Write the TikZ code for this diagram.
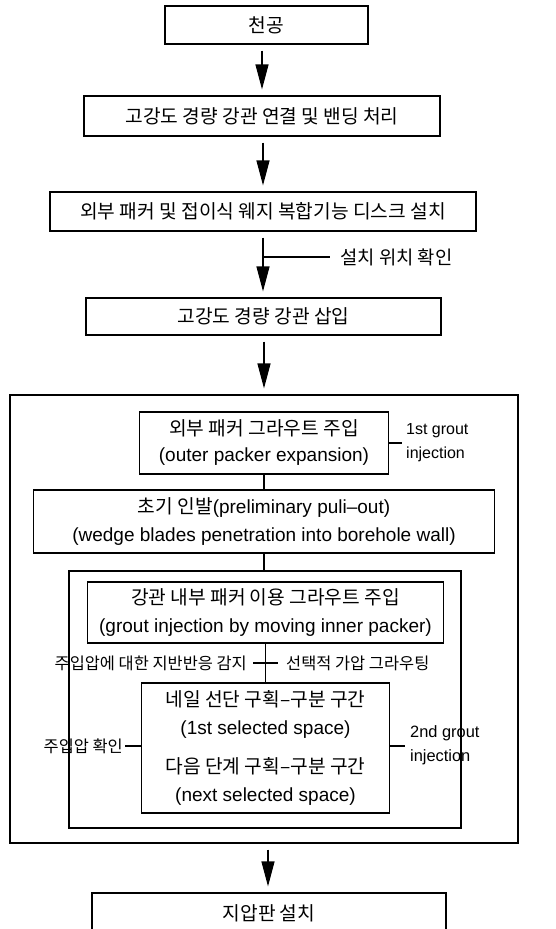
\documentclass[tikz,border=0pt]{standalone}
\usepackage{fontspec}
\setmainfont{Liberation Sans}
\newfontfamily\krfont{Noto Sans CJK KR}
\usetikzlibrary{arrows.meta}
\newcommand\K{\krfont\fontsize{19.2}{28}\selectfont}
\newcommand\Ks{\krfont\fontsize{16.4}{24}\selectfont}
\newcommand\E{\fontsize{19}{28}\selectfont}
\begin{document}
\begin{tikzpicture}[x=1pt,y=-1pt,
  box/.style={draw, line width=1.2pt, inner sep=0pt, align=center},
  arr/.style={line width=1.2pt, -{Triangle[length=25pt,width=13pt]}, shorten <=6pt, shorten >=6pt},
  ln/.style={line width=1.2pt},
  lab/.style={inner sep=0pt, font=\Ks},
  elab/.style={inner sep=0pt, align=left, font=\fontsize{16}{24}\selectfont}]
\useasboundingbox (0,0) rectangle (555,929);
\fill[white] (0,0) rectangle (555,929);
\clip (0,0) rectangle (555,929);

\node[box, minimum width=203pt, minimum height=38pt, font=\K] (b1) at (266.5,25) {천공};
\node[box, minimum width=356pt, minimum height=40pt, font=\K] (b2) at (262,116) {고강도 경량 강관 연결 및 밴딩 처리};
\node[box, minimum width=426pt, minimum height=39pt, font=\K] (b3) at (263,211.5) {외부 패커 및 접이식 웨지 복합기능 디스크 설치};
\node[box, minimum width=355pt, minimum height=37pt, font=\K] (b4) at (263.5,316.5) {고강도 경량 강관 삽입};
\node[box, minimum width=508pt, minimum height=448pt] (outer) at (264,619) {};
\node[box, minimum width=249pt, minimum height=62pt, font=\fontsize{19}{26}\selectfont] (b5) at (264,443) {{\krfont\fontsize{19.2}{26}\selectfont 외부 패커 그라우트 주입}\\(outer packer expansion)};
\node[box, minimum width=461pt, minimum height=63pt, font=\E] (b6) at (264,521.5) {{\K 초기 인발}(preliminary puli–out)\\(wedge blades penetration into borehole wall)};
\node[box, minimum width=392pt, minimum height=257pt] (inner) at (265,699.5) {};
\node[box, minimum width=356pt, minimum height=61pt, font=\E] (b7) at (265.5,612.5) {{\K 강관 내부 패커 이용 그라우트 주입}\\(grout injection by moving inner packer)};
\node[box, minimum width=248pt, minimum height=130pt, font=\E] (b8) at (265.5,748) {{\K 네일 선단 구획–구분 구간}\\(1st selected space)\\[11pt]{\K 다음 단계 구획–구분 구간}\\(next selected space)};
\node[box, minimum width=354pt, minimum height=40pt, font=\K] (b9) at (269,913) {지압판 설치};

% main arrows
\coordinate (c1) at (262,0);
\coordinate (c2) at (263,0);
\coordinate (c3) at (263,0);
\coordinate (c4) at (264,0);
\coordinate (c5) at (268,0);
\draw[arr] (b1.south -| c1) -- (b2.north -| c1);
\draw[arr] (b2.south -| c2) -- (b3.north -| c2);
\draw[arr] (b3.south -| c3) -- (b4.north -| c3);
\draw[arr] (b4.south -| c4) -- (outer.north -| c4);
\draw[arr] (outer.south -| c5) -- (b9.north -| c5);

% branch label
\coordinate (s1) at (263,257);
\coordinate (s2) at (330,257);
\draw[ln] (s1) -- (s2);
\node[inner sep=0pt, font=\krfont\fontsize{18.8}{24}\selectfont, anchor=west] (s3) at (340,257) {설치 위치 확인};

% internal connectors
\draw[ln] (b5.south) -- (b6.north);
\draw[ln] (b6.south) -- (b6.south |- inner.north);
\draw[ln] (b7.south) -- (b8.north);

% 1st grout injection
\node[elab, anchor=west] (g1) at (406,443) {1st grout\\injection};
\coordinate (g1e) at (402,443);
\draw[ln] (b5.east) -- (g1e);

% cross labels
\coordinate (cl) at (253,663);
\coordinate (cr) at (278,663);
\draw[ln] (cl) -- (cr);
\node[lab, anchor=east] (m1) at (247,663) {주입압에 대한 지반반응 감지};
\node[lab, anchor=west] (m2) at (286,663) {선택적 가압 그라우팅};

% left label of b8
\node[lab, anchor=east] (p1) at (123,746) {주입압 확인};
\coordinate (p1e) at (125,746);
\draw[ln] (p1e) -- (b8.west |- p1e);

% 2nd grout injection
\node[elab, anchor=west, font=\fontsize{16.4}{24}\selectfont] (g2) at (410,745) {2nd grout\\injection};
\coordinate (g2e) at (405,746);
\draw[ln] (b8.east |- g2e) -- (g2e);
\end{tikzpicture}
\end{document}
